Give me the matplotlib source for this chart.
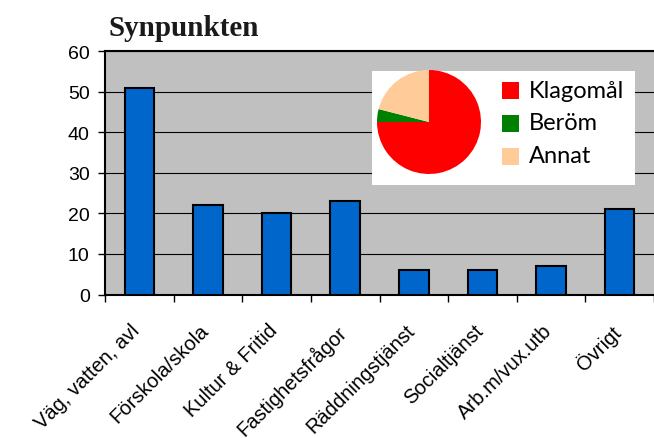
import numpy as np
import matplotlib
matplotlib.use("Agg")
import matplotlib.pyplot as plt
from matplotlib.patches import Rectangle
from matplotlib import transforms

# data
categories = ["Väg, vatten, avl", "Förskola/skola", "Kultur & Fritid", "Fastighetsfrågor",
              "Räddningstjänst", "Socialtjänst", "Arb.m/vux.utb", "Övrigt"]
counts = [51, 22, 20, 23, 6, 6, 7, 21]

pie_labels = ["Klagomål", "Beröm", "Annat"]
pie_values = [75, 4, 21]
pie_colors = ["#FF0000", "#008000", "#FFCC99"]

W, H = 654, 439
fig = plt.figure(figsize=(W / 100, H / 100), dpi=100)

def px_axes(x0, y0, x1, y1):
    # pixel box (top-left origin) -> figure fraction
    return [x0 / W, 1 - y1 / H, (x1 - x0) / W, (y1 - y0) / H]

ax = fig.add_axes(px_axes(105, 52, 654, 295.5))
ax.set_facecolor("#C0C0C0")
x = np.arange(len(categories))
ax.bar(x, counts, width=0.43, color="#0066CC", edgecolor="black", linewidth=1.5, zorder=3)
ax.set_xlim(-0.5, -0.5 + (654 - 105) / 69.0)
ax.set_ylim(0, 60)
ax.set_yticks(np.arange(0, 61, 10))
ax.yaxis.grid(True, color="black", linewidth=0.8, zorder=0)
ax.set_axisbelow(True)
ax.set_xticks(np.arange(-0.5, len(categories), 1.0))
ax.set_xticklabels([])
ax.tick_params(axis="both", direction="out", length=5, width=1, color="black")
ax.tick_params(axis="y", labelsize=14, pad=6)
for lab in ax.get_yticklabels():
    lab.set_family("Liberation Sans")
for s in ["left", "top", "bottom"]:
    ax.spines[s].set_linewidth(1.5)
    ax.spines[s].set_color("black")
ax.spines["right"].set_visible(False)

# rotated category labels
trans = ax.get_xaxis_transform() + transforms.ScaledTranslation(-9 / 100, -26 / 100, fig.dpi_scale_trans)
for i, name in enumerate(categories):
    ax.text(i, 0, name, transform=trans, rotation=45, rotation_mode="anchor",
            ha="right", va="top", fontsize=14.5, family="Liberation Sans")

fig.text(108 / W, 1 - 36 / H, "Synpunkten", fontsize=21, fontweight="bold",
         family="Liberation Serif", color="#1a1a1a", va="baseline", ha="left")

# inset box with pie and legend
box = fig.add_axes(px_axes(372, 72, 635, 186))
box.set_facecolor("white")
box.set_xlim(0, 263)
box.set_ylim(114, 0)
box.set_xticks([])
box.set_yticks([])
for s in box.spines.values():
    s.set_visible(False)
for j, (lab, col) in enumerate(zip(pie_labels, pie_colors)):
    yc = 19 + 33 * j
    box.add_patch(Rectangle((130, yc - 8.5), 17, 17, facecolor=col, edgecolor="none"))
    box.text(157, yc, lab, fontsize=17, family="Lato", va="center", ha="left")

pax = fig.add_axes(px_axes(429 - 52, 123 - 52, 429 + 52, 123 + 52))
pax.pie(pie_values, colors=pie_colors, startangle=90, counterclock=False,
        wedgeprops=dict(linewidth=0))
pax.set_xlim(-1, 1)
pax.set_ylim(-1, 1)
pax.set_aspect("equal")
pax.axis("off")

fig.savefig("out.png", dpi=100)
